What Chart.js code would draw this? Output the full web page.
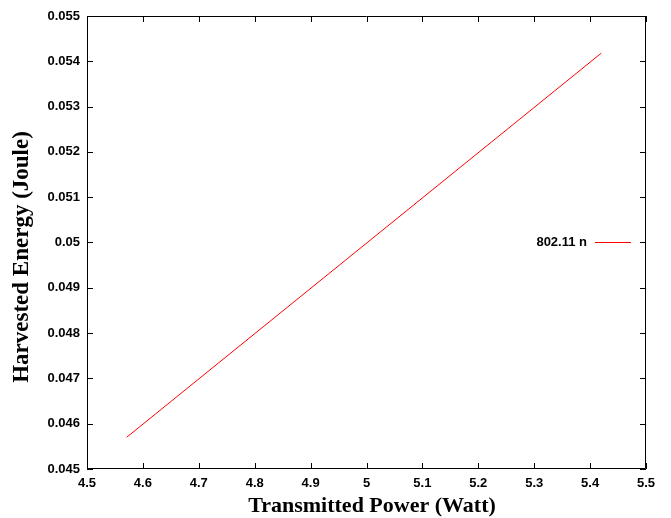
<!DOCTYPE html>
<html>
<head>
<meta charset="utf-8">
<script src="https://cdn.jsdelivr.net/npm/chart.js@4"></script>
<style>
  html, body { margin: 0; padding: 0; background: #fff; }
  #wrap { width: 671px; height: 518px; }
</style>
</head>
<body>
<div id="wrap"><canvas id="chart" width="671" height="518"></canvas></div>
<script>
// data
const seriesLabel = '802.11 n';
const powerValues = [4.571, 5.420];      // Watt
const energyValues = [0.0457, 0.05418];  // Joule
const xTicks = [4.5, 4.6, 4.7, 4.8, 4.9, 5, 5.1, 5.2, 5.3, 5.4, 5.5];
const yTicks = [0.045, 0.046, 0.047, 0.048, 0.049, 0.05, 0.051, 0.052, 0.053, 0.054, 0.055];
const xTitle = 'Transmitted Power (Watt)';
const yTitle = 'Harvested Energy (Joule)';

const tickFont = { family: 'Liberation Sans, Arial, sans-serif', size: 13, weight: 'bold' };
const serif = 'Liberation Serif, Times New Roman, serif';

// gnuplot style frame: mirrored inward ticks, axis titles, legend at right
const framePlugin = {
    id: 'frame',
    afterDraw(chart) {
        const ctx = chart.ctx;
        const a = chart.chartArea;
        const xs = chart.scales.x, ys = chart.scales.y;
        ctx.save();
        ctx.strokeStyle = '#000';
        ctx.lineWidth = 1;
        ctx.beginPath();
        ctx.rect(a.left + 0.5, a.top + 0.5, a.right - a.left - 1, a.bottom - a.top - 1);
        ctx.stroke();
        ctx.beginPath();
        xTicks.forEach(v => {
            const px = Math.round(xs.getPixelForValue(v)) + 0.5;
            ctx.moveTo(px, a.bottom); ctx.lineTo(px, a.bottom - 6);
            ctx.moveTo(px, a.top); ctx.lineTo(px, a.top + 6);
        });
        yTicks.forEach(v => {
            const py = Math.round(ys.getPixelForValue(v)) + 0.5;
            ctx.moveTo(a.left, py); ctx.lineTo(a.left + 6, py);
            ctx.moveTo(a.right, py); ctx.lineTo(a.right - 6, py);
        });
        ctx.stroke();

        // axis titles
        ctx.fillStyle = '#000';
        ctx.textAlign = 'center';
        ctx.textBaseline = 'middle';
        ctx.font = 'bold 22px ' + serif;
        ctx.fillText(xTitle, 372, 506);
        ctx.save();
        ctx.translate(22, 257);
        ctx.rotate(-Math.PI / 2);
        ctx.font = 'bold 23px ' + serif;
        ctx.fillText(yTitle, 0, 0);
        ctx.restore();

        // legend entry
        const ds = chart.data.datasets[0];
        const ly = 242;
        ctx.font = 'bold 13px Liberation Sans, Arial, sans-serif';
        ctx.textAlign = 'right';
        ctx.fillText(ds.label, 587, ly);
        ctx.strokeStyle = ds.borderColor;
        ctx.beginPath();
        ctx.moveTo(595, ly + 0.5); ctx.lineTo(631, ly + 0.5);
        ctx.stroke();
        ctx.restore();
    }
};

new Chart(document.getElementById('chart'), {
    type: 'line',
    data: {
        datasets: [{
            label: seriesLabel,
            data: powerValues.map((x, i) => ({ x: x, y: energyValues[i] })),
            borderColor: '#ff0000',
            borderWidth: 1,
            pointRadius: 0,
            fill: false,
            tension: 0
        }]
    },
    options: {
        responsive: false,
        animation: false,
        layout: { padding: { top: 16, right: 25, left: 0, bottom: 0 } },
        plugins: {
            legend: { display: false },
            tooltip: { enabled: false }
        },
        scales: {
            x: {
                type: 'linear',
                min: 4.5,
                max: 5.5,
                afterBuildTicks: s => { s.ticks = xTicks.map(v => ({ value: v })); },
                afterFit: s => { s.height = 49; },
                grid: { display: false, drawTicks: false, tickLength: 0 },
                border: { display: false },
                ticks: {
                    color: '#000',
                    font: tickFont,
                    padding: 7,
                    maxRotation: 0,
                    callback: v => String(+v.toFixed(1))
                }
            },
            y: {
                type: 'linear',
                min: 0.045,
                max: 0.055,
                afterBuildTicks: s => { s.ticks = yTicks.map(v => ({ value: v })); },
                afterFit: s => { s.width = 87; },
                grid: { display: false, drawTicks: false, tickLength: 0 },
                border: { display: false },
                ticks: {
                    color: '#000',
                    font: tickFont,
                    padding: 7,
                    callback: v => String(+v.toFixed(3))
                }
            }
        }
    },
    plugins: [framePlugin]
});
</script>
</body>
</html>
